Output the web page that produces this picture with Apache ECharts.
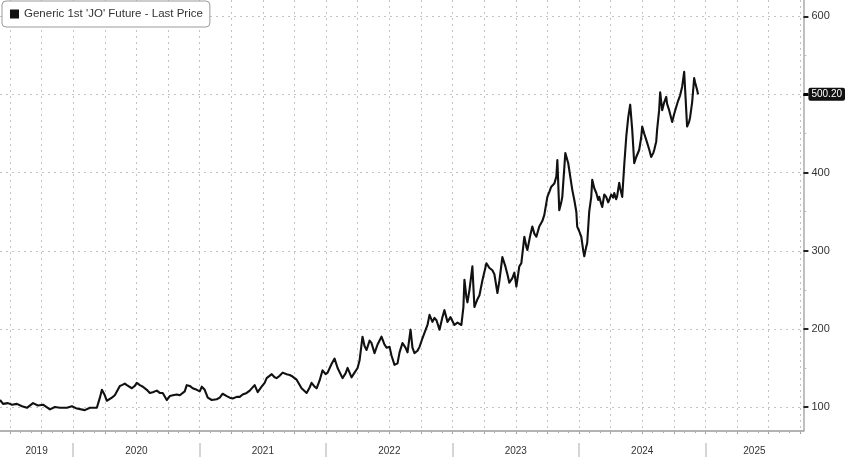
<!DOCTYPE html>
<html><head><meta charset="utf-8">
<script src="https://cdn.jsdelivr.net/npm/echarts@6/dist/echarts.min.js"></script>
<style>html,body{margin:0;padding:0;background:#fff}#c{width:848px;height:457px}</style>
</head><body><div id="c"></div>
<script>
const seriesName = "Generic 1st 'JO' Future - Last Price";
// decimal years
const dates = [
2019.421,2019.445,2019.484,2019.516,2019.555,2019.595,2019.634,2019.682,2019.721,2019.761,
2019.816,2019.855,2019.895,2019.950,2019.990,2020.029,2020.092,2020.132,2020.187,2020.211,
2020.227,2020.250,2020.266,2020.306,2020.329,2020.369,2020.385,2020.408,2020.424,2020.464,
2020.487,2020.503,2020.527,2020.551,2020.582,2020.606,2020.629,2020.661,2020.685,2020.708,
2020.740,2020.764,2020.788,2020.819,2020.843,2020.882,2020.898,2020.922,2020.945,2020.977,
2021.001,2021.017,2021.040,2021.064,2021.096,2021.135,2021.159,2021.182,2021.214,2021.238,
2021.261,2021.293,2021.317,2021.340,2021.372,2021.396,2021.435,2021.459,2021.490,2021.514,
2021.530,2021.570,2021.593,2021.609,2021.633,2021.656,2021.688,2021.712,2021.735,2021.767,
2021.806,2021.846,2021.870,2021.885,2021.909,2021.925,2021.949,2021.972,2021.996,2022.012,
2022.043,2022.067,2022.091,2022.130,2022.154,2022.170,2022.201,2022.225,2022.249,2022.265,
2022.288,2022.304,2022.320,2022.344,2022.359,2022.383,2022.407,2022.438,2022.462,2022.478,
2022.502,2022.517,2022.541,2022.565,2022.581,2022.604,2022.628,2022.644,2022.668,2022.683,
2022.699,2022.723,2022.739,2022.762,2022.778,2022.802,2022.818,2022.841,2022.857,2022.873,
2022.897,2022.920,2022.936,2022.960,2022.984,2023.015,2023.039,2023.070,2023.086,2023.094,
2023.110,2023.118,2023.134,2023.157,2023.173,2023.197,2023.213,2023.236,2023.268,2023.292,
2023.315,2023.331,2023.355,2023.371,2023.394,2023.418,2023.434,2023.449,2023.473,2023.489,
2023.505,2023.528,2023.544,2023.568,2023.584,2023.592,2023.615,2023.631,2023.647,2023.663,
2023.686,2023.710,2023.726,2023.750,2023.765,2023.781,2023.805,2023.821,2023.829,2023.844,
2023.860,2023.868,2023.892,2023.915,2023.931,2023.947,2023.963,2023.979,2023.986,2024.002,
2024.018,2024.034,2024.042,2024.057,2024.065,2024.081,2024.097,2024.105,2024.121,2024.137,
2024.152,2024.160,2024.176,2024.184,2024.200,2024.215,2024.231,2024.239,2024.255,2024.271,
2024.279,2024.294,2024.302,2024.318,2024.326,2024.342,2024.358,2024.374,2024.389,2024.405,
2024.421,2024.437,2024.453,2024.476,2024.492,2024.500,2024.516,2024.532,2024.555,2024.571,
2024.587,2024.595,2024.611,2024.618,2024.634,2024.642,2024.658,2024.674,2024.690,2024.697,
2024.713,2024.729,2024.737,2024.753,2024.769,2024.784,2024.800,2024.816,2024.832,2024.840,
2024.855,2024.871,2024.879,2024.895,2024.911,2024.919,2024.934,2024.942
];
const prices = [
109,104,105,103,104,101,99,105,102,103,
97,100,99,99,101,98,96,99,99,112,
122,115,108,112,115,127,128,130,128,124,
127,131,128,126,122,118,119,121,118,118,
109,114,115,116,115,120,128,127,124,122,
120,126,122,112,109,110,112,117,114,112,
111,113,113,116,118,121,128,119,126,131,
137,142,138,137,140,144,142,141,139,135,
124,118,125,131,126,124,134,147,142,144,
155,162,150,137,143,150,138,144,150,160,
190,178,173,185,182,169,180,190,180,176,
177,166,154,156,170,182,176,170,199,176,
169,172,177,188,195,205,218,209,214,211,
199,215,224,209,215,205,208,205,228,263,
240,234,250,280,228,238,243,262,284,278,
275,270,246,262,292,280,270,259,265,272,
254,280,284,318,305,301,320,331,322,318,
331,338,346,369,375,382,386,395,416,352,
362,369,425,412,395,378,365,350,331,325,
318,300,293,305,310,350,369,391,380,374,
365,369,360,356,372,369,362,365,372,368,
374,366,370,387,380,369,410,446,470,487,
455,412,420,429,445,459,450,442,430,420,
425,429,440,455,480,503,480,490,497,488,
480,470,465,475,484,492,499,510,529,505,
459,465,471,490,521,515,506,500.2
];
const yTickValues = [100,200,300,400,500,600];
const yLabelValues = [100,200,300,400,600];
const yMinorTickValues = [150,250,350,450,550];
const yearLabels = [2019,2020,2021,2022,2023,2024,2025];
const xMin = 2019.421, xMax = 2025.775, yMin = 69.3, yMax = 621;

const quarterBounds = [], monthBounds = [];
yearLabels.forEach(y => { for (let m = 0; m < 12; m++) { const v = y + m / 12; if (v > xMin && v < xMax) { monthBounds.push(v); if (m % 3 === 0) quarterBounds.push(v); } } });
const yearBounds = yearLabels.filter(y => y > xMin && y < xMax);
const yearMids = yearLabels.map(y => (Math.max(y, xMin) + Math.min(y + 1, xMax)) / 2);
const lastPrice = prices[prices.length - 1];
const FONT = 'Liberation Sans';
const dotted = {type: [2, 4], color: '#c4c4c4', width: 1};

const chart = echarts.init(document.getElementById('c'), null, {renderer: 'canvas'});
chart.setOption({
  animation: false,
  backgroundColor: '#fff',
  textStyle: {fontFamily: FONT},
  grid: {left: 0, right: 44, top: 0, bottom: 26, containLabel: false},
  legend: {
    data: [{name: seriesName, icon: 'rect'}],
    left: 2, top: 1, itemWidth: 9, itemHeight: 9,
    padding: [7, 7, 7, 8], borderColor: '#9a9a9a', borderWidth: 1, borderRadius: 4,
    backgroundColor: '#fff',
    textStyle: {fontSize: 11.5, color: '#333', fontFamily: FONT}
  },
  xAxis: [
    {type: 'value', min: xMin, max: xMax,
     axisLine: {show: true, lineStyle: {color: '#9a9a9a', width: 1.5}},
     axisTick: {show: true, customValues: quarterBounds, length: 3, lineStyle: {color: '#999'}},
     axisLabel: {show: false}, splitLine: {show: true, lineStyle: dotted}},
    {type: 'value', min: xMin, max: xMax, position: 'bottom',
     axisLine: {show: false},
     axisTick: {show: true, customValues: monthBounds, length: 2, lineStyle: {color: '#aaa'}},
     axisLabel: {show: false}, splitLine: {show: false}},
    {type: 'value', min: xMin, max: xMax, position: 'bottom', offset: 12,
     axisLine: {show: false},
     axisTick: {show: true, customValues: yearBounds, length: 14, lineStyle: {color: '#c8c8c8', width: 1.5}},
     axisLabel: {show: true, customValues: yearMids, formatter: v => String(Math.floor(v + 1e-6)), margin: 3, fontSize: 10, color: '#333', fontFamily: FONT},
     splitLine: {show: false}}
  ],
  yAxis: [
    {type: 'value', position: 'right', min: yMin, max: yMax,
     axisLine: {show: true, lineStyle: {color: '#aaa', width: 1.5}},
     axisTick: {show: true, customValues: yTickValues, length: 5, lineStyle: {color: '#222', width: 2}},
     axisLabel: {show: true, customValues: yLabelValues, margin: 8, fontSize: 11, color: '#333', fontFamily: FONT},
     splitLine: {show: true, lineStyle: dotted}},
    {type: 'value', position: 'right', min: yMin, max: yMax,
     axisLine: {show: false},
     axisTick: {show: true, customValues: yMinorTickValues, length: 3, lineStyle: {color: '#bbb'}},
     axisLabel: {show: false}, splitLine: {show: false}},
    {type: 'value', position: 'right', min: yMin, max: yMax,
     axisLine: {show: false},
     axisTick: {show: true, customValues: [lastPrice], length: 5, lineStyle: {color: '#000', width: 3}},
     axisLabel: {show: true, customValues: [lastPrice], formatter: v => v.toFixed(2), margin: 5,
       backgroundColor: '#111', color: '#fff', padding: [2, 3, 1, 3], borderRadius: 2, fontSize: 10, fontFamily: FONT},
     splitLine: {show: false}}
  ],
  series: [{
    type: 'line', name: seriesName, xAxisIndex: 0, yAxisIndex: 0,
    data: dates.map((d, i) => [d, prices[i]]),
    symbol: 'none', showSymbol: false,
    lineStyle: {color: '#111', width: 2.1, join: 'round'}, itemStyle: {color: '#111'}
  }]
});
</script></body></html>
